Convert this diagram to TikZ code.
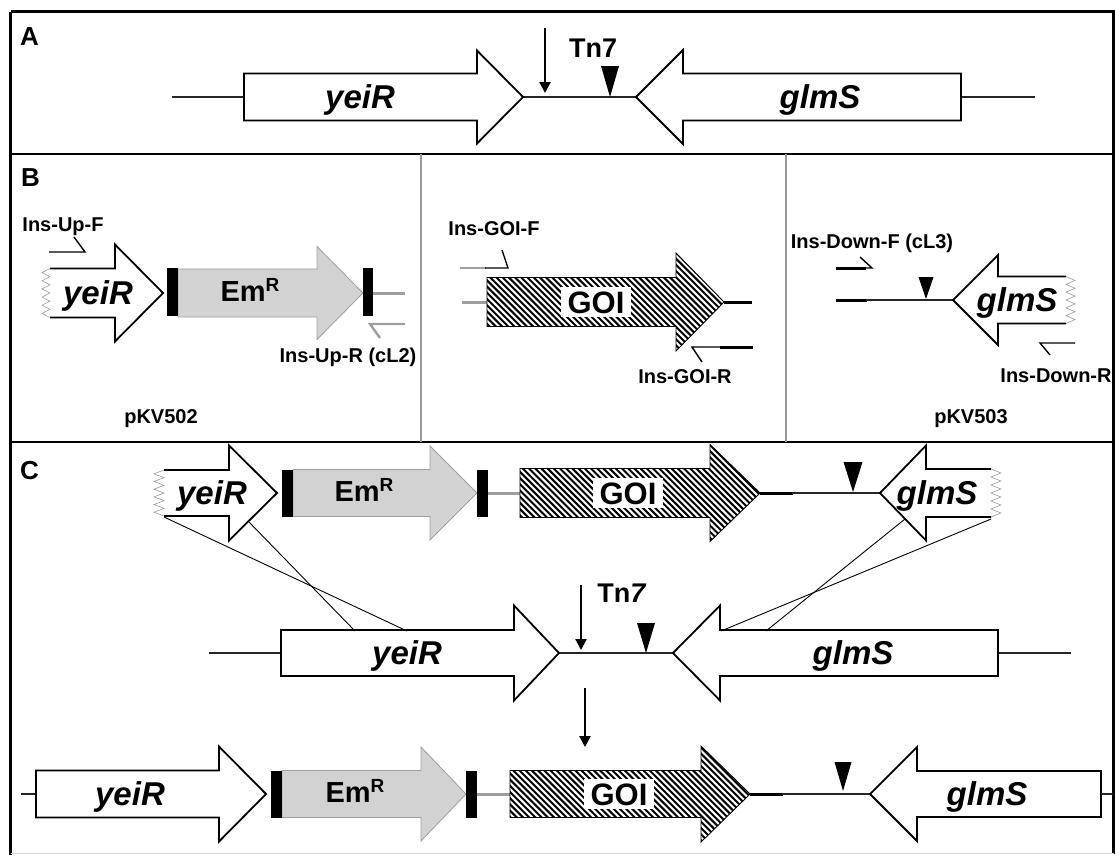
\documentclass[tikz,border=0pt]{standalone}
\usepackage{fontspec}
\setmainfont{Liberation Sans}
\usetikzlibrary{arrows.meta}
\newcommand\garrow[7][gene]{\path[#1] (#2,{#5-#6}) -- (#3,{#5-#6}) -- (#3,{#5-#7}) -- (#4,#5) -- (#3,{#5+#7}) -- (#3,{#5+#6}) -- (#2,{#5+#6}) -- cycle;}
\newcommand\zarrow[7]{%
 \fill[white] (#1,{#4-#5}) -- (#2,{#4-#5}) -- (#2,{#4-#6}) -- (#3,#4) -- (#2,{#4+#6}) -- (#2,{#4+#5}) -- (#1,{#4+#5}) -- cycle;
 \draw[geneline] (#1,{#4-#5}) -- (#2,{#4-#5}) -- (#2,{#4-#6}) -- (#3,#4) -- (#2,{#4+#6}) -- (#2,{#4+#5}) -- (#1,{#4+#5});
 \draw[zig] (#1,{#4-#5}) \foreach \k in {1,...,12}{ -- ({#1+(#7)*mod(\k,2)},{#4-#5+2*#5*\k/12}) };}
\newcommand\goiarrow[6]{%
 \begin{scope}
 \clip (#1,{#4-#5}) -- (#2,{#4-#5}) -- (#2,{#4-#6}) -- (#3,#4) -- (#2,{#4+#6}) -- (#2,{#4+#5}) -- (#1,{#4+#5}) -- cycle;
 \foreach \i in {0,6.2,...,360} \draw[hatch] ({#1-110+\i},{#4-#6-2}) -- ++(110,110);
 \end{scope}
 \path[goi] (#1,{#4-#5}) -- (#2,{#4-#5}) -- (#2,{#4-#6}) -- (#3,#4) -- (#2,{#4+#6}) -- (#2,{#4+#5}) -- (#1,{#4+#5}) -- cycle;}
\newcommand\site[4]{\fill ({#1-#2},#3) -- ({#1+#2},#3) -- (#1,#4) -- cycle;}
\newcommand\bbar[4]{\fill (#1,#3) rectangle (#2,#4);}
\newcommand\EmR{Em\raisebox{0.36em}{\fontsize{19}{19}\selectfont R}}
\begin{document}
\begin{tikzpicture}[x=1pt,y=-1pt,
  gene/.style={draw=black,line width=1.8pt,fill=white,line join=miter},
  geneline/.style={draw=black,line width=1.8pt,line join=miter},
  emr/.style={draw=gray!75,line width=0.8pt,fill=gray!35,line join=miter},
  goi/.style={draw=black,line width=0.9pt,line join=miter},
  hatch/.style={line width=2pt,black},
  dna/.style={line width=1.1pt,black!85},
  thickblk/.style={line width=3pt,black},
  thickgry/.style={line width=3pt,gray!75},
  primer/.style={line width=1.4pt,black,line join=miter},
  gprimer/.style={line width=2.4pt,gray!75,line join=miter},
  zig/.style={line width=0.6pt,gray!80},
  divider/.style={line width=2.2pt,black},
  vdiv/.style={line width=1.6pt,gray!80},
  genetext/.style={font=\fontsize{33}{33}\selectfont\bfseries\itshape,text height=23.5pt,text depth=0pt,inner sep=0pt,anchor=center},
  emtext/.style={font=\fontsize{29}{29}\selectfont\bfseries,text height=21pt,text depth=0pt,inner sep=0pt,anchor=center},
  goitext/.style={font=\fontsize{31}{31}\selectfont\bfseries,text height=22.5pt,text depth=0pt,inner xsep=7pt,inner ysep=3.5pt,fill=white,anchor=center},
  small/.style={font=\fontsize{20}{20}\selectfont\bfseries,text height=14.3pt,text depth=0pt,inner sep=0pt,anchor=center},
  tntext/.style={font=\fontsize{27}{27}\selectfont\bfseries,text height=19.3pt,text depth=0pt,inner sep=0pt,anchor=center},
  paneltext/.style={font=\fontsize{26}{26}\selectfont\bfseries,text height=18.6pt,text depth=0pt,inner sep=0pt,anchor=west},
  tnarrow/.style={-{Triangle[length=11pt,width=11pt]},line width=2.2pt},
  cross/.style={line width=0.9pt,black}
]
\useasboundingbox (0,0) rectangle (1115,855);
% frame
\draw[line width=3pt] (10.5,11.5) -- (1113.5,11.5) -- (1113.5,853.5);
\draw[line width=3pt] (10.5,11.5) -- (10.5,855);
\draw[line width=0.8pt,gray!30] (10.5,853.5) -- (1113.5,853.5);
\draw[divider] (10,154) -- (1114,154);
\draw[divider] (10,442) -- (1114,442);
\draw[vdiv] (421,154) -- (421,442);
\draw[vdiv] (786,154) -- (786,442);
% ================= Panel A
\node[paneltext] (labA) at (20,36) {A};
\draw[dna] (172,97) -- (244,97);
\draw[dna] (523,97) -- (636,97);
\draw[dna] (961,97) -- (1035,97);
\garrow{244}{477}{523}{97}{23.5}{46.5}
\garrow{961}{683}{636}{97}{23.5}{47}
\node[genetext] (yeiRA) at (360,97) {yeiR};
\node[genetext] (glmSA) at (820,97) {glmS};
\site{610}{9}{66}{97}
\node[tntext] (tnA) at (593,48) {Tn7};
\coordinate (tnAs) at (545,28);
\coordinate (tnAe) at (545,93);
\draw[tnarrow] (tnAs) -- (tnAe);
% ================= Panel B
\node[paneltext] (labB) at (21,177) {B};
% yeiR + EmR
\zarrow{50}{115}{163}{293}{24.5}{48.5}{-8}
\node[genetext] (yeiRB) at (98,293) {yeiR};
\garrow[emr]{178}{317}{363}{293}{24}{46.5}
\bbar{167}{178}{268}{316}
\bbar{363}{373}{268}{316}
\node[emtext] (emB) at (250,291) {\EmR};
\draw[thickgry] (373,293) -- (405,293);
\draw[primer] (49,252) -- (85,252) -- (74,237);
\node[small] (upF) at (63,224) {Ins-Up-F};
\draw[gprimer] (405,324) -- (370,324) -- (380,338);
\node[small] (upR) at (348,355) {Ins-Up-R (cL2)};
\node[small] (pkv502) at (161,416) {pKV502};
% GOI
\draw[thickgry] (462,302) -- (487,302);
\goiarrow{487}{676}{724}{302}{24.5}{49}
\node[goitext] (goiB) at (596,302) {GOI};
\draw[thickblk] (724,302) -- (752,302);
\draw[gprimer] (460,268) -- (486,268);
\draw[primer] (485,268) -- (508,268) -- (502,250);
\node[small] (goiF) at (494,228) {Ins-GOI-F};
\draw[primer] (720,347) -- (692,347) -- (702,362);
\draw[thickblk] (720,347) -- (753,347);
\node[small] (goiR) at (685,376) {Ins-GOI-R};
% glmS
\draw[thickblk] (836,300) -- (867,300);
\draw[dna] (866,300) -- (953,300);
\zarrow{1066}{998}{953}{300}{23.5}{45}{9}
\node[genetext] (glmSB) at (1017,300) {glmS};
\site{926}{7.5}{277}{299}
\draw[thickblk] (836,268) -- (866,268);
\draw[primer] (865,268) -- (872,268) -- (860,257);
\node[small] (downF) at (872,241) {Ins-Down-F (cL3)};
\draw[primer] (1075,343) -- (1040,343) -- (1050,355);
\node[small] (downR) at (1056,375) {Ins-Down-R};
\node[small] (pkv503) at (971,416) {pKV503};
% ================= Panel C
\node[paneltext] (labC) at (20,470) {C};
% top row
\zarrow{164}{229}{277}{493}{23}{47.5}{-10}
\node[genetext] (yeiRC1) at (212,493) {yeiR};
\garrow[emr]{293}{430}{477}{493}{23.5}{47}
\bbar{282}{293}{470}{517}
\bbar{477}{488}{470}{517}
\node[emtext] (emC1) at (364,491) {\EmR};
\draw[thickgry] (488,493) -- (520,493);
\goiarrow{520}{710}{760}{493}{24.5}{48.5}
\node[goitext] (goiC1) at (628,493) {GOI};
\draw[thickblk] (760,493) -- (793,493);
\draw[dna] (792,493) -- (880,493);
\site{853}{9.5}{462}{492}
\zarrow{991}{926}{880}{493}{24}{47.5}{10}
\node[genetext] (glmSC1) at (937,493) {glmS};
% middle row
\draw[dna] (209,653) -- (281,653);
\draw[dna] (559,653) -- (673,653);
\draw[dna] (998,653) -- (1071,653);
\garrow{281}{514}{559}{653}{23}{47.5}
\garrow{998}{720}{673}{653}{23}{47.5}
\node[genetext] (yeiRC2) at (407,653) {yeiR};
\node[genetext] (glmSC2) at (853,653) {glmS};
\site{646}{9}{623}{653}
\node[tntext] (tnC) at (622,593) {Tn\textit{7}};
\coordinate (tnCs) at (581,585);
\coordinate (tnCe) at (581,650);
\draw[tnarrow] (tnCs) -- (tnCe);
% recombination crossings
\coordinate (xa1) at (164,517);
\coordinate (xa2) at (407,631);
\coordinate (xb1) at (248,521);
\coordinate (xb2) at (355,631);
\coordinate (xc1) at (991,519);
\coordinate (xc2) at (721,631);
\coordinate (xd1) at (905,519);
\coordinate (xd2) at (766,631);
\draw[cross] (xa1) -- (xa2);
\draw[cross] (xb1) -- (xb2);
\draw[cross] (xc1) -- (xc2);
\draw[cross] (xd1) -- (xd2);
% down arrow
\coordinate (dns) at (585,688);
\coordinate (dne) at (585,747);
\draw[tnarrow] (dns) -- (dne);
% bottom row
\draw[dna] (21,794) -- (36,794);
\garrow{36}{219}{266}{794}{23.5}{47.5}
\node[genetext] (yeiRC3) at (130,794) {yeiR};
\garrow[emr]{282}{421}{466}{794}{23.5}{47}
\bbar{271}{282}{771}{818}
\bbar{466}{477}{771}{818}
\node[emtext] (emC3) at (355,792) {\EmR};
\draw[thickgry] (477,794) -- (510,794);
\goiarrow{510}{701}{750}{794}{23.5}{48}
\node[goitext] (goiC3) at (619,794) {GOI};
\draw[thickblk] (750,794) -- (783,794);
\draw[dna] (782,794) -- (870,794);
\site{843}{8.5}{762}{791}
\garrow{1101}{917}{870}{794}{23}{47}
\draw[dna] (1101,794) -- (1113,794);
\node[genetext] (glmSC3) at (987,794) {glmS};
\end{tikzpicture}
\end{document}
